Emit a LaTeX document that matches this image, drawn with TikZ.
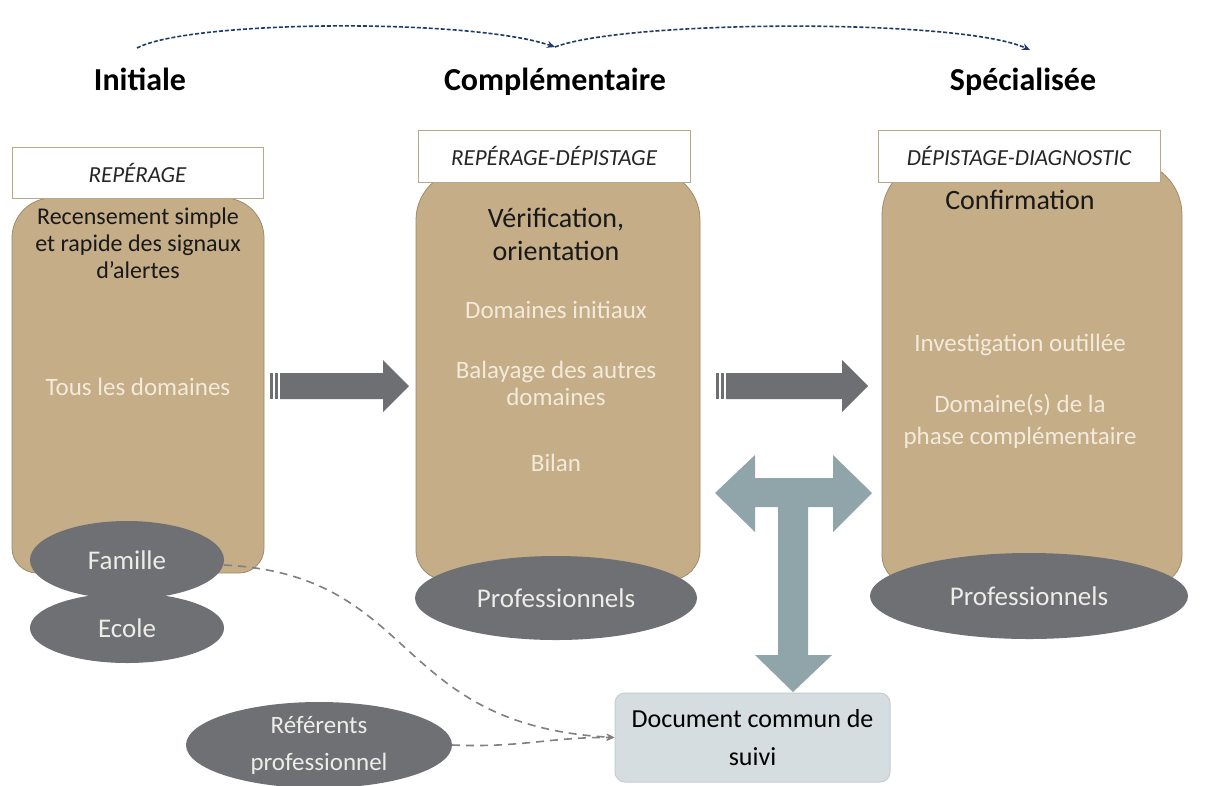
\documentclass[tikz,border=0pt]{standalone}
\usepackage{fontspec}
\setmainfont{Carlito}
\usetikzlibrary{shapes.geometric,arrows.meta}
\definecolor{tanfill}{HTML}{C4AD87}
\definecolor{tanline}{HTML}{9E8C6B}
\definecolor{lblline}{HTML}{B9A98B}
\definecolor{ellgray}{HTML}{6E7073}
\definecolor{elltext}{HTML}{EEECE8}
\definecolor{cream}{HTML}{F4EADB}
\definecolor{arrgray}{HTML}{6D6F72}
\definecolor{tblue}{HTML}{8FA5AA}
\definecolor{docfill}{HTML}{D5DDE1}
\definecolor{docline}{HTML}{C5CDD1}
\definecolor{navy}{HTML}{1F3A68}
\definecolor{dashgray}{HTML}{808080}
\begin{document}
\begin{tikzpicture}[x=1pt,y=-1pt,
  tanbox/.style={fill=tanfill,draw=tanline,line width=0.8pt},
  lblbox/.style={draw=lblline,fill=white,line width=1pt,
    font=\fontsize{23}{26}\selectfont\itshape,text=black!85},
  title/.style={font=\fontsize{32}{36}\selectfont\bfseries,text=black,anchor=base},
  blacktxt/.style={align=center,text=black!90},
  creamtxt/.style={align=center,text=cream,font=\fontsize{25}{27}\selectfont},
  grayell/.style={ellipse,fill=ellgray,inner sep=0pt,text=elltext,
    align=center,font=\fontsize{27}{33}\selectfont},
  bigarrow/.style={fill=arrgray},
  navyarc/.style={navy,line width=1.6pt,dash pattern=on 4pt off 2pt,
    -{Stealth[length=8pt,width=7pt]}},
  grayarc/.style={dashgray,line width=1.6pt,
    dash pattern=on 8pt off 6pt,-{Stealth[length=8pt,width=7pt]}}]
\useasboundingbox[fill=white] (0,0) rectangle (1206,785);

% titles
\node[title] (tInit) at (140,90) {Initiale};
\node[title] (tComp) at (555,90) {Complémentaire};
\node[title] (tSpec) at (1023,90) {Spécialisée};
\coordinate (a0) at (137,48);
\coordinate (a1) at (555,47);
\coordinate (a2) at (1030,50);
\draw[navyarc] (a0) .. controls (190,20) and (470,18) .. (a1);
\draw[navyarc] (a1) .. controls (625,20) and (960,18) .. (a2);

% tan columns
\path[tanbox] (12,400) [rounded corners=40pt] -- (12,198) -- (264,198)
  -- (264,400) [rounded corners=25pt] -- (264,573) -- (12,573) -- cycle;
\path[tanbox] (416,400) [rounded corners=50pt] -- (416,170) -- (700,170)
  -- (700,400) [rounded corners=30pt] -- (700,580) -- (416,580) -- cycle;
\path[tanbox] (882,400) [rounded corners=55pt] -- (882,160) -- (1182,160)
  -- (1182,400) [rounded corners=30pt] -- (1182,585) -- (882,585) -- cycle;

% label boxes
\node[lblbox,minimum width=251pt,minimum height=51pt] (l1) at (137.5,172.5) {REPÉRAGE};
\node[lblbox,minimum width=272pt,minimum height=52pt] (l2) at (554,156) {REPÉRAGE-DÉPISTAGE};
\node[lblbox,minimum width=282pt,minimum height=52pt] (l3) at (1019,156) {DÉPISTAGE-DIAGNOSTIC};

% column texts
\node[blacktxt,font=\fontsize{24}{27}\selectfont] (c1a) at (138,243)
  {Recensement simple\\et rapide des signaux\\d’alertes};
\node[creamtxt] (c1b) at (138,387) {Tous les domaines};

\node[blacktxt,font=\fontsize{28}{33}\selectfont] (c2a) at (556,234)
  {Vérification,\\orientation};
\node[creamtxt] (c2b) at (556,310) {Domaines initiaux};
\node[creamtxt] (c2c) at (556,383) {Balayage des autres\\domaines};
\node[creamtxt] (c2d) at (556,463) {Bilan};

\node[blacktxt,font=\fontsize{28}{33}\selectfont] (c3a) at (1020,200) {Confirmation};
\node[creamtxt] (c3b) at (1020,345) {Investigation outillée};
\node[creamtxt,font=\fontsize{25}{32}\selectfont] (c3c) at (1020,421) {Domaine(s) de la\\phase complémentaire};

% ellipses
\node[grayell,minimum width=194pt,minimum height=70pt] (ecole) at (127,628) {Ecole};
\node[grayell,minimum width=194pt,minimum height=78pt] (famille) at (127,560) {Famille};
\node[grayell,minimum width=282pt,minimum height=84pt] (pro1) at (556,598) {Professionnels};
\node[grayell,minimum width=318pt,minimum height=86pt] (pro2) at (1029,596) {Professionnels};
\node[grayell,minimum width=266pt,minimum height=86pt,
  font=\fontsize{25}{37}\selectfont] (ref) at (319,745) {Référents\\professionnel};

% big gray arrows
\fill[bigarrow] (270,373) rectangle (272.5,399);
\fill[bigarrow] (275,373) rectangle (277.5,399);
\fill[bigarrow] (280,373) -- (383,373) -- (383,360) -- (409,386) -- (383,412)
  -- (383,399) -- (280,399) -- cycle;
\fill[bigarrow] (716,373) rectangle (718.5,399);
\fill[bigarrow] (721,373) rectangle (723.5,399);
\fill[bigarrow] (726,373) -- (842,373) -- (842,360) -- (868,386) -- (842,412)
  -- (842,399) -- (726,399) -- cycle;

% document
\node[draw=docline,fill=docfill,rounded corners=10pt,line width=1pt,
  minimum width=275pt,minimum height=89pt,align=center,
  font=\fontsize{26}{38}\selectfont,text=black] (doc) at (752.5,737.5)
  {Document commun de\\suivi};

% T arrow
\fill[tblue] (715,493) -- (755,455) -- (755,478) -- (833,478) -- (833,455)
  -- (872,493) -- (833,532) -- (833,507) -- (808,507) -- (808,655)
  -- (832,655) -- (793,692) -- (755,655) -- (778,655) -- (778,507)
  -- (755,507) -- (755,532) -- cycle;

% dashed connectors
\draw[grayarc] (famille.east) ++(0,5) .. controls (420,575) and (390,725) .. (doc.west);
\draw[grayarc] (ref.east) .. controls (520,748) and (550,737) .. (doc.west);
\end{tikzpicture}
\end{document}
